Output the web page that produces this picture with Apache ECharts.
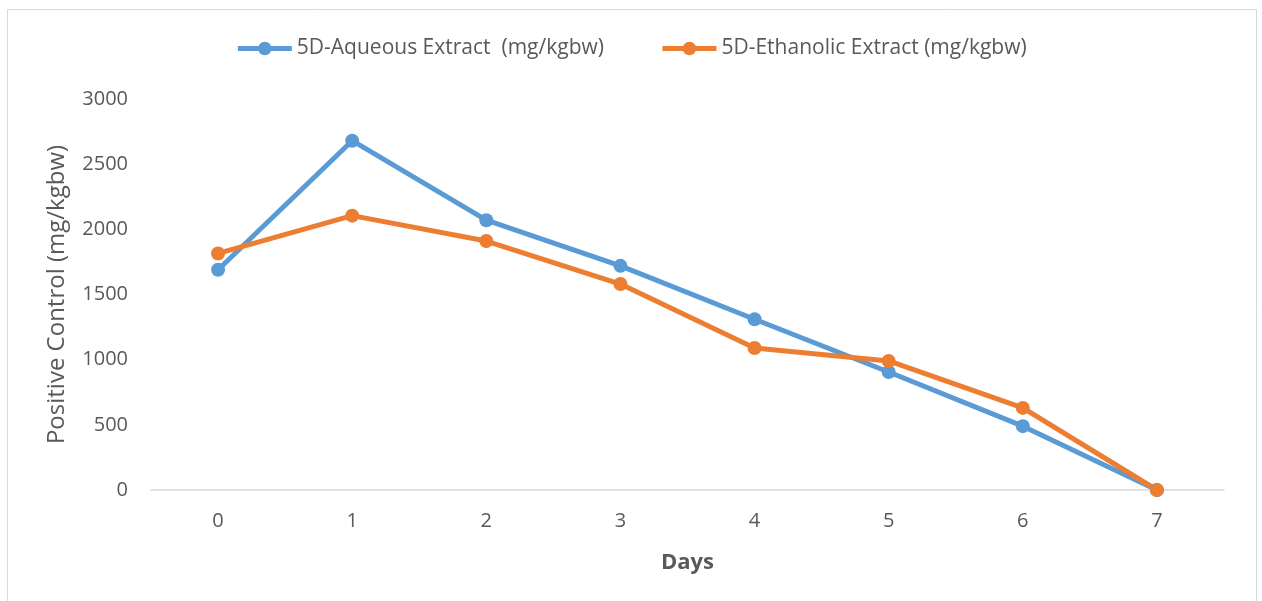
<!DOCTYPE html>
<html>
<head>
<meta charset="utf-8">
<script src="https://cdn.jsdelivr.net/npm/echarts@6/dist/echarts.min.js"></script>
<style>
html,body{margin:0;padding:0;background:#fff;}
#chart{width:1262px;height:601px;}
</style>
</head>
<body>
<div id="chart"></div>
<script>
const days = ['0','1','2','3','4','5','6','7'];
const aqueousName = '5D-Aqueous Extract  (mg/kgbw)';
const ethanolicName = '5D-Ethanolic Extract (mg/kgbw)';
const aqueous = [1690, 2680, 2070, 1720, 1310, 905, 490, 0];
const ethanolic = [1815, 2105, 1910, 1580, 1090, 990, 630, 0];
const yTicks = {min: 0, max: 3000, interval: 500};

const chart = echarts.init(document.getElementById('chart'));
const font = "'Open Sans', 'Liberation Sans', sans-serif";
chart.setOption({
  animation: false,
  textStyle: {fontFamily: font},
  graphic: [{
    type: 'rect', left: 5, top: 7,
    shape: {width: 1249, height: 600},
    style: {fill: 'none', stroke: '#d9d9d9', lineWidth: 1}
  }],
  legend: {
    top: 33, left: 'center', itemGap: 56,
    itemWidth: 54, itemHeight: 17,
    lineStyle: {width: 5},
    textStyle: {color: '#595959', fontSize: 21, fontFamily: font},
    data: [aqueousName, ethanolicName]
  },
  grid: {left: 151, right: 38, top: 99, bottom: 111},
  xAxis: {
    type: 'category', data: days, boundaryGap: true,
    name: 'Days', nameLocation: 'middle', nameGap: 62,
    nameTextStyle: {color: '#595959', fontSize: 22, fontWeight: 'bold', fontFamily: font},
    axisLine: {lineStyle: {color: '#d9d9d9', width: 1.5}},
    axisTick: {show: false},
    axisLabel: {color: '#595959', fontSize: 20, margin: 21, fontFamily: font},
    splitLine: {show: false}
  },
  yAxis: {
    type: 'value', min: yTicks.min, max: yTicks.max, interval: yTicks.interval,
    name: 'Positive Control (mg/kgbw)', nameLocation: 'middle', nameGap: 82,
    nameTextStyle: {color: '#595959', fontSize: 24, fontFamily: font},
    axisLine: {show: false}, axisTick: {show: false},
    axisLabel: {color: '#595959', fontSize: 20, margin: 23, fontFamily: font,
                formatter: v => String(v)},
    splitLine: {show: false}
  },
  series: [
    {name: aqueousName, type: 'line', data: aqueous, symbol: 'circle', symbolSize: 14,
     itemStyle: {color: '#5B9BD5'}, lineStyle: {color: '#5B9BD5', width: 5}},
    {name: ethanolicName, type: 'line', data: ethanolic, symbol: 'circle', symbolSize: 14,
     itemStyle: {color: '#ED7D31'}, lineStyle: {color: '#ED7D31', width: 5}}
  ]
});
</script>
</body>
</html>
